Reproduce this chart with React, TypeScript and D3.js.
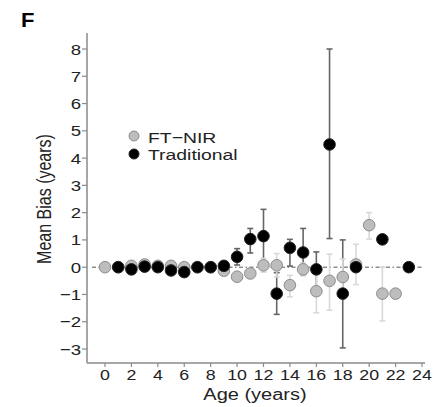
import React from "react";
import * as d3 from "d3";

const yTicks = [-3, -2, -1, 0, 1, 2, 3, 4, 5, 6, 7, 8];
const xTicks = [0, 2, 4, 6, 8, 10, 12, 14, 16, 18, 20, 22, 24];

const ftAge = [0, 1, 2, 3, 4, 5, 6, 7, 8, 9, 10, 11, 12, 13, 14, 15, 16, 17, 18, 19, 20, 21, 22];
const ftMean = [0, 0, 0.05, 0.1, 0.05, 0.05, 0, 0, 0, -0.13, -0.35, -0.23, 0.07, 0.07, -0.66, -0.08, -0.88, -0.5, -0.36, 0.1, 1.54, -0.97, -0.97];
const ftLo = [0, 0, 0.05, 0.1, 0.05, 0.05, 0, 0, 0, -0.13, -0.5, -0.38, -0.18, -0.35, -1.09, -0.3, -1.67, -1.58, -1.0, -0.64, 1.03, -1.97, -0.97];
const ftHi = [0, 0, 0.05, 0.1, 0.05, 0.05, 0, 0, 0, -0.13, -0.2, -0.08, 0.32, 0.5, -0.3, 0.15, -0.1, 0.48, 0.3, 0.84, 2.0, 0.0, -0.97];

const trAge = [1, 2, 3, 4, 5, 6, 7, 8, 9, 10, 11, 12, 13, 14, 15, 16, 17, 18, 19, 21, 23];
const trMean = [0, -0.08, 0.02, 0, -0.12, -0.18, 0, 0, 0.05, 0.38, 1.03, 1.14, -0.97, 0.71, 0.54, -0.08, 4.5, -0.97, 0, 1.02, 0];
const trLo = [0, -0.08, 0.02, 0, -0.12, -0.18, 0, 0, 0.05, 0.08, 0.52, 0.1, -1.73, 0.04, -0.3, -0.85, 1.05, -2.96, 0, 1.02, 0];
const trHi = [0, -0.08, 0.02, 0, -0.12, -0.18, 0, 0, 0.05, 0.68, 1.42, 2.12, -0.2, 1.02, 1.42, 0.56, 8.0, 1.0, 0, 1.02, 0];

const seriesNames = ["FT\u2212NIR", "Traditional"];

const FONT = "'Liberation Sans', Arial, Helvetica, sans-serif";

export default function App() {
  const x = d3.scaleLinear().domain([0, 24]).range([105, 422]);
  const y = d3.scaleLinear().domain([-3, 8]).range([349, 49]);
  const axLeft = 87;
  const axRight = 425;
  const axTop = 33;
  const axBottom = 363;
  const r = 5.8;
  const cap = 3;
  const SX = 1.25;

  const ft = ftAge.map((a, i) => ({ a, m: ftMean[i], lo: ftLo[i], hi: ftHi[i] }));
  const tr = trAge.map((a, i) => ({ a, m: trMean[i], lo: trLo[i], hi: trHi[i] }));

  const errBars = (data: typeof ft, color: string, key: string) =>
    data
      .filter((d) => d.hi - d.lo > 0.01)
      .map((d) => (
        <g key={key + d.a} stroke={color} strokeWidth={1.6}>
          <line x1={x(d.a)} x2={x(d.a)} y1={y(d.lo)} y2={y(d.hi)} />
          <line x1={x(d.a) - cap} x2={x(d.a) + cap} y1={y(d.lo)} y2={y(d.lo)} />
          <line x1={x(d.a) - cap} x2={x(d.a) + cap} y1={y(d.hi)} y2={y(d.hi)} />
        </g>
      ));

  const fmt = (v: number) => (v < 0 ? "\u2212" + Math.abs(v) : String(v));

  return (
    <svg
      width={440}
      height={407}
      style={{ position: "absolute", left: 0, top: 0, background: "#fff" }}
      fontFamily={FONT}
    >
      <text transform="translate(21,27) scale(1.1,1)" fontSize={20} fontWeight="bold" fill="#000">F</text>

      {/* zero line */}
      <line
        x1={axLeft + 5}
        x2={axRight - 1}
        y1={y(0)}
        y2={y(0)}
        stroke="#555"
        strokeWidth={1}
        strokeDasharray="4,2.5,1.5,2.5"
      />

      {errBars(tr, "#666", "te")}
      {errBars(ft, "#d9d9d9", "fe")}

      {ft.map((d) => (
        <circle key={"f" + d.a} cx={x(d.a)} cy={y(d.m)} r={r} fill="#bdbdbd" stroke="#8c8c8c" strokeWidth={1} />
      ))}
      {tr.map((d) => (
        <circle key={"t" + d.a} cx={x(d.a)} cy={y(d.m)} r={r} fill="#000" stroke="#222" strokeWidth={1} />
      ))}

      {/* axes */}
      <line x1={axLeft} x2={axLeft} y1={axTop} y2={axBottom} stroke="#8a8a8a" strokeWidth={1.5} />
      <line x1={axLeft} x2={axRight} y1={axBottom} y2={axBottom} stroke="#8a8a8a" strokeWidth={1.5} />

      {yTicks.map((t) => (
        <g key={"yt" + t}>
          <line x1={axLeft - 5} x2={axLeft} y1={y(t)} y2={y(t)} stroke="#8a8a8a" strokeWidth={1.2} />
          <text
            transform={`translate(${axLeft - 6},${y(t) + 5.5}) scale(1.2,1)`}
            textAnchor="end"
            fontSize={15.5}
            fill="#222"
          >
            {fmt(t)}
          </text>
        </g>
      ))}
      {xTicks.map((t) => (
        <g key={"xt" + t}>
          <line x1={x(t)} x2={x(t)} y1={axBottom} y2={axBottom + 4} stroke="#8a8a8a" strokeWidth={1.2} />
          <text
            transform={`translate(${x(t)},${axBottom + 17}) scale(1.15,1)`}
            textAnchor="middle"
            fontSize={15.5}
            fill="#222"
          >
            {fmt(t)}
          </text>
        </g>
      ))}

      <text
        transform={`translate(51,199) rotate(-90) scale(1,${SX})`}
        textAnchor="middle"
        fontSize={16}
        fill="#222"
      >
        Mean Bias (years)
      </text>
      <text transform={`translate(255,400) scale(${SX},1)`} textAnchor="middle" fontSize={16} fill="#222">
        Age (years)
      </text>

      {/* legend */}
      <circle cx={134} cy={136} r={5} fill="#bdbdbd" stroke="#8c8c8c" strokeWidth={1} />
      <circle cx={134} cy={154} r={5} fill="#000" stroke="#222" strokeWidth={1} />
      <text transform={`translate(148,143) scale(${SX},1)`} fontSize={15.5} fill="#222">{seriesNames[0]}</text>
      <text transform={`translate(148,160) scale(${SX},1)`} fontSize={15.5} fill="#222">{seriesNames[1]}</text>
    </svg>
  );
}
